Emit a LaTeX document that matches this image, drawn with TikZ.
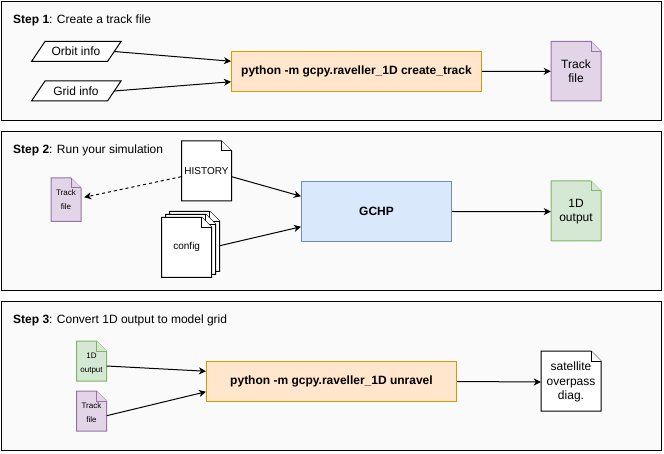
\documentclass[tikz,border=0pt]{standalone}
\usepackage{fontspec}
\setmainfont{Liberation Sans}
\usetikzlibrary{arrows.meta,calc}
\definecolor{panelbg}{HTML}{FAFAFA}
\definecolor{orfill}{HTML}{FFE6CC}
\definecolor{ordraw}{HTML}{D79B00}
\definecolor{pufill}{HTML}{E1D5E7}
\definecolor{pudraw}{HTML}{9673A6}
\definecolor{blfill}{HTML}{DAE8FC}
\definecolor{bldraw}{HTML}{6C8EBF}
\definecolor{grfill}{HTML}{D5E8D4}
\definecolor{grdraw}{HTML}{82B366}
\newcommand\docshape[5]{%
  \filldraw[#5] (#1,#2) -- (#3-10,#2) -- (#3,#2+10) -- (#3,#4) -- (#1,#4) -- cycle;
  \draw[#5] (#3-10,#2) -- (#3-10,#2+10) -- (#3,#2+10);
}
\tikzset{
  panel/.style={draw=black, fill=panelbg, line width=1pt},
  fnt/.style={font=\fontsize{12}{14.5}\selectfont},
  fntten/.style={font=\fontsize{10}{12}\selectfont},
  fntsm/.style={font=\fontsize{8}{14}\selectfont},
  txt/.style={inner sep=0pt, align=center, text=black},
  cmdbox/.style={draw=ordraw, fill=orfill, line width=1pt, inner sep=0pt, minimum width=250pt, minimum height=40pt, font=\fontsize{12}{14}\selectfont\bfseries},
  gchpbox/.style={draw=bldraw, fill=blfill, line width=1pt, inner sep=0pt, minimum width=150pt, minimum height=60pt, font=\fontsize{12}{14}\selectfont\bfseries},
  para/.style={draw=black, fill=white, line width=1pt},
  docpu/.style={draw=pudraw, fill=pufill, line width=1pt},
  docgr/.style={draw=grdraw, fill=grfill, line width=1pt},
  docwh/.style={draw=black, fill=white, line width=1pt},
  arr/.style={-{Stealth[length=7pt,width=7pt,inset=2pt]}, line width=1pt, draw=black},
  darr/.style={arr, dash pattern=on 3pt off 3pt},
}
\begin{document}
\begin{tikzpicture}[x=1pt, y=-1pt]
\useasboundingbox (0,0) rectangle (664,454);
\fill[white] (0,0) rectangle (664,454);
% panels
\draw[panel] (1.5,1.5) rectangle (661.5,120.5);
\draw[panel] (1.5,131.5) rectangle (661.5,290.5);
\draw[panel] (1.5,301.5) rectangle (661.5,450.5);
\node[txt, fnt, anchor=west] (s1) at (13,20.5) {\textbf{Step 1}: Create a track file};
\node[txt, fnt, anchor=west] (s2) at (13,150.7) {\textbf{Step 2}: Run your simulation};
\node[txt, fnt, anchor=west] (s3) at (13,320.7) {\textbf{Step 3}: Convert 1D output to model grid};

% ---------- Step 1
\draw[para] (45,41.5) -- (121,41.5) -- (107.5,61.5) -- (31.5,61.5) -- cycle;
\node[txt, fnt, minimum width=76pt] (orbit) at (76,51.5) {Orbit info};
\draw[para] (45,81) -- (121,81) -- (107.5,101) -- (31.5,101) -- cycle;
\node[txt, fnt, minimum width=76pt] (grid) at (76,91) {Grid info};
\node[cmdbox] (py1) at (356.5,71.5) {python -m gcpy.raveller\_1D create\_track};
\docshape{551}{41.5}{601}{101}{docpu}
\node[txt, fnt, minimum width=50pt, minimum height=60pt] (track1) at (576,71.3) {Track\\file};
\draw[arr] (orbit.east) -- ($(py1.north west)!0.25!(py1.south west)$);
\draw[arr] (grid.east) -- ($(py1.north west)!0.75!(py1.south west)$);
\draw[arr] (py1.east) -- (track1.west);

% ---------- Step 2
\docshape{181.5}{141}{231.5}{201}{docwh}
\node[txt, fntten, minimum width=50pt, minimum height=60pt] (hist) at (206.5,171) {HISTORY};
\docshape{51}{178}{81}{221.5}{docpu}
\node[txt, fntsm, minimum width=30pt, minimum height=43.5pt] (track2) at (66,199.8) {Track\\file};
\docshape{169.7}{211.3}{219.7}{271.3}{docwh}
\docshape{165.7}{214.3}{215.7}{274.3}{docwh}
\docshape{161.7}{217.3}{211.7}{277.3}{docwh}
\node[txt, fntten, minimum width=50pt, minimum height=60pt] (config) at (186.7,247.3) {config};
\node[gchpbox] (gchp) at (376.5,211.5) {GCHP};
\docshape{551}{181}{601}{241}{docgr}
\node[txt, fnt, minimum width=50pt, minimum height=60pt] (out1) at (576,211.6) {1D\\output};
\draw[darr] ($(hist.west)+(0,5.7)$) -- ($(track2.east)+(3,-2.5)$);
\draw[arr] ($(hist.east)+(0,5.7)$) -- ($(gchp.north west)!0.25!(gchp.south west)$);
\draw[arr] ($(config.east)+(8,-1.6)$) -- ($(gchp.north west)!0.75!(gchp.south west)$);
\draw[arr] (gchp.east) -- (out1.west);

% ---------- Step 3
\docshape{76.5}{341}{106.5}{381}{docgr}
\node[txt, fntsm, minimum width=30pt, minimum height=40pt] (out2) at (91.5,363.5) {1D\\output};
\docshape{76.5}{391}{106.5}{431}{docpu}
\node[txt, fntsm, minimum width=30pt, minimum height=40pt] (track3) at (91.5,413) {Track\\file};
\node[cmdbox] (py3) at (331.5,381.5) {python -m gcpy.raveller\_1D unravel};
\docshape{541}{351}{601}{411}{docwh}
\node[txt, fnt, minimum width=60pt, minimum height=60pt] (sat) at (571,382) {satellite\\overpass\\diag.};
\draw[arr] ($(out2.east)+(0,2.5)$) -- ($(py3.north west)!0.25!(py3.south west)$);
\draw[arr] ($(track3.east)+(0,2.7)$) -- ($(py3.north west)!0.75!(py3.south west)$);
\draw[arr] (py3.east) -- (sat.west);
\end{tikzpicture}
\end{document}
